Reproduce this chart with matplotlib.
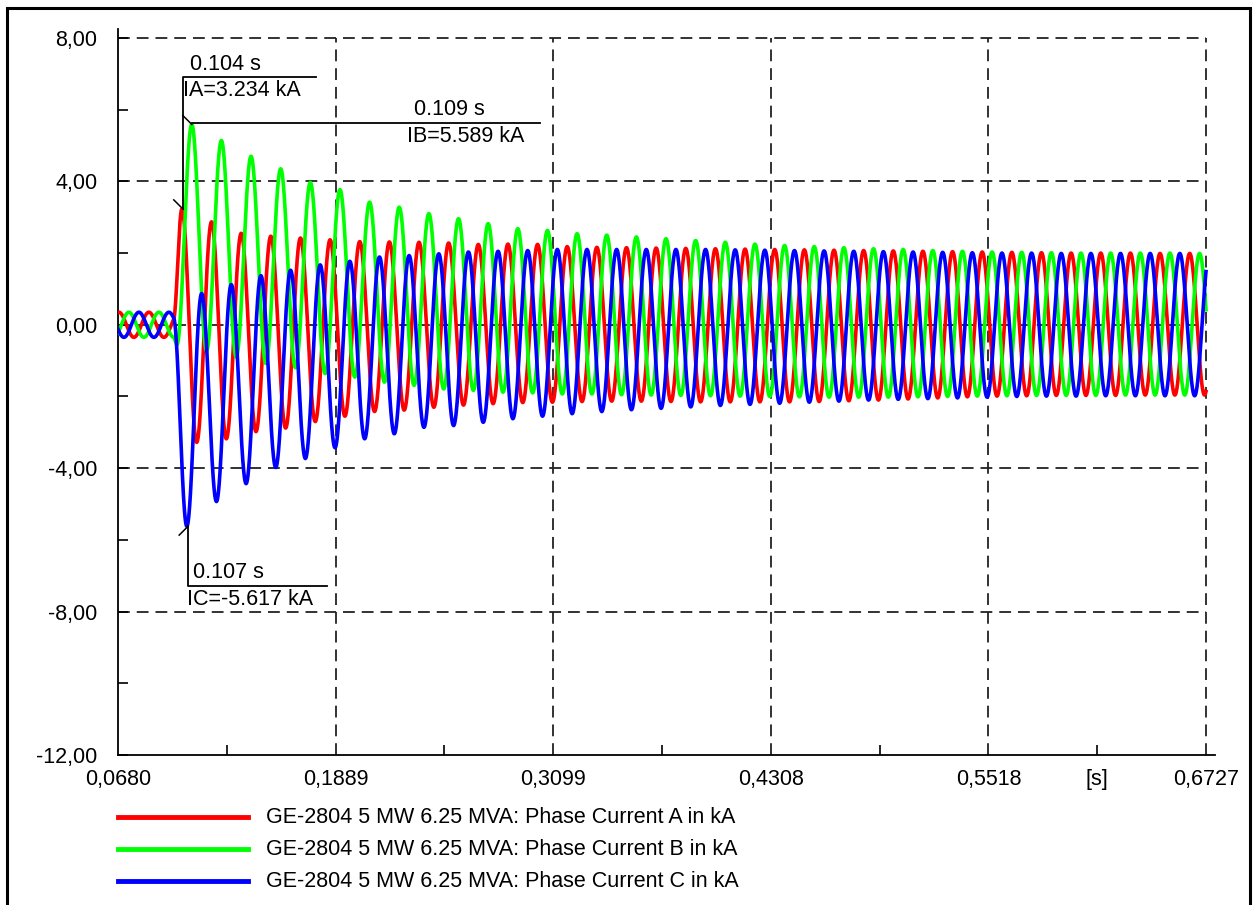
import numpy as np
import matplotlib
matplotlib.use('Agg')
import matplotlib.pyplot as plt
from matplotlib.lines import Line2D
from matplotlib.patches import Rectangle

plt.rcParams['font.family'] = ['Liberation Sans', 'DejaVu Sans']
plt.rcParams['lines.scale_dashes'] = False

W, H = 1256, 905

# axis ticks
x_ticks = [0.0680, 0.1889, 0.3099, 0.4308, 0.5518, 0.6727]
x_tick_labels = ['0,0680', '0,1889', '0,3099', '0,4308', '0,5518', '0,6727']
x_minor = [0.12845, 0.2494, 0.37035, 0.4913, 0.61225]
y_ticks = [-12, -8, -4, 0, 4, 8]
y_tick_labels = ['-12,00', '-8,00', '-4,00', '0,00', '4,00', '8,00']
y_minor = [-10, -6, -2, 2, 6]

series_labels = [
    'GE-2804 5 MW 6.25 MVA: Phase Current A in kA',
    'GE-2804 5 MW 6.25 MVA: Phase Current B in kA',
    'GE-2804 5 MW 6.25 MVA: Phase Current C in kA',
]
colors = ['#ff0000', '#00ff00', '#0000ff']

# before the fault: small balanced currents
t_start, t_end = 0.0680, 0.6727
t_fault = 0.0988
f_pre = 60.0
pre_amp = 0.35
pre_peak_a = 0.0685

# after the fault: per-cycle maxima / minima (cycle k = 0..35)
f_post = 60.7
first_peak_a = 0.1035
a_max = [3.23, 2.87, 2.55, 2.47, 2.42, 2.37, 2.32, 2.31, 2.30, 2.28, 2.24, 2.25,
         2.24, 2.18, 2.16, 2.15, 2.14, 2.13, 2.12, 2.11, 2.10, 2.09, 2.08, 2.07,
         2.06, 2.05, 2.04, 2.03, 2.02, 2.01, 2.00, 2.00, 2.00, 1.99, 1.99, 1.99]
a_min = [-3.28, -3.18, -2.98, -2.88, -2.70, -2.55, -2.42, -2.38, -2.30, -2.24, -2.20, -2.17,
         -2.16, -2.14, -2.13, -2.13, -2.14, -2.15, -2.15, -2.15, -2.15, -2.14, -2.12, -2.10,
         -2.07, -2.04, -2.01, -1.99, -1.98, -1.97, -1.97, -1.97, -1.96, -1.96, -1.96, -1.96]
b_max = [5.59, 5.14, 4.70, 4.35, 3.97, 3.77, 3.42, 3.28, 3.10, 2.96, 2.82, 2.68,
         2.63, 2.54, 2.50, 2.45, 2.40, 2.35, 2.30, 2.25, 2.21, 2.18, 2.15, 2.12,
         2.10, 2.07, 2.05, 2.03, 2.02, 2.01, 2.00, 2.00, 2.00, 2.00, 1.99, 1.99]
b_min = [-0.55, -0.72, -0.90, -1.08, -1.20, -1.36, -1.46, -1.60, -1.69, -1.79, -1.83, -1.88,
         -1.90, -1.93, -1.93, -1.95, -1.96, -1.97, -1.98, -1.99, -2.00, -2.01, -2.02, -2.02,
         -2.02, -2.01, -2.00, -1.99, -1.98, -1.97, -1.97, -1.97, -1.96, -1.96, -1.96, -1.96]
c_max = [0.87, 1.12, 1.37, 1.52, 1.67, 1.77, 1.89, 1.93, 1.98, 2.03, 2.05, 2.07,
         2.10, 2.10, 2.10, 2.10, 2.10, 2.10, 2.09, 2.08, 2.07, 2.06, 2.05, 2.04,
         2.03, 2.02, 2.01, 2.00, 2.00, 1.99, 1.99, 1.99, 1.99, 1.99, 1.99, 1.99]
c_min = [-5.62, -4.93, -4.43, -3.98, -3.73, -3.43, -3.18, -3.04, -2.86, -2.81, -2.72, -2.62,
         -2.55, -2.48, -2.42, -2.37, -2.33, -2.29, -2.25, -2.22, -2.19, -2.16, -2.13, -2.10,
         -2.08, -2.06, -2.04, -2.02, -2.00, -1.99, -1.99, -1.98, -1.98, -1.98, -1.98, -1.98]

# cursor read-outs shown on the plot
markers = [
    # time, value, top text, bottom text
    (0.104, 3.234, '0.104 s', 'IA=3.234 kA'),
    (0.109, 5.589, '0.109 s', 'IB=5.589 kA'),
    (0.107, -5.617, '0.107 s', 'IC=-5.617 kA'),
]


def build_wave(t, phase, maxima, minima, first_trough):
    '''pre-fault sine, then half-cosine arcs through the read extremes'''
    T0 = 1.0 / f_pre
    T = 1.0 / f_post
    pre = pre_amp * np.cos(2 * np.pi * f_pre * (t - pre_peak_a - phase * T0))
    k = np.arange(len(maxima))
    t_pk = first_peak_a + phase * T + k * T
    t_tr = first_trough + k * T
    ext_t = np.concatenate([t_pk, t_tr])
    ext_v = np.concatenate([maxima, minima])
    order = np.argsort(ext_t)
    ext_t, ext_v = ext_t[order], ext_v[order]
    v0 = pre_amp * np.cos(2 * np.pi * f_pre * (t_fault - pre_peak_a - phase * T0))
    tt = np.concatenate([[t_fault], ext_t])
    vv = np.concatenate([[v0], ext_v])
    idx = np.clip(np.searchsorted(tt, t, side='right') - 1, 0, len(tt) - 2)
    frac = np.clip((t - tt[idx]) / (tt[idx + 1] - tt[idx]), 0, 1)
    post = vv[idx] + (vv[idx + 1] - vv[idx]) * (1 - np.cos(np.pi * frac)) / 2
    return np.where(t < t_fault, pre, post)


T = 1.0 / f_post
t = np.linspace(t_start, t_end, 6000)
waves = [
    build_wave(t, 0.0, a_max, a_min, first_peak_a + T / 2),
    build_wave(t, 1 / 3, b_max, b_min, first_peak_a - T / 6),
    build_wave(t, 2 / 3, c_max, c_min, first_peak_a + T / 6),
]

fig = plt.figure(figsize=(W / 100, H / 100), dpi=100)
# plot box: x 118..1215 px, y 29..755 px (axis lines run a little past the last ticks)
ax = fig.add_axes([118 / W, 1 - 755 / H, 1097 / W, 726 / H])

for w, c in zip(waves, colors):
    ax.plot(t, w, color=c, lw=2.6, zorder=3)

grid_kw = dict(colors='#222222', linestyles=(0, (8.5, 5)), linewidth=1.3, zorder=1)
ax.hlines([-8, -4, 0, 4, 8], t_start, t_end, **grid_kw)
ax.vlines(x_ticks[1:], -12, 8, **grid_kw)

ax.set_xlim(t_start, t_end + 0.005)
ax.set_ylim(-12, 8.25)
ax.set_xticks(x_ticks)
ax.set_xticklabels(x_tick_labels)
ax.set_xticks(x_minor, minor=True)
ax.set_yticks(y_ticks)
ax.set_yticklabels(y_tick_labels)
ax.set_yticks(y_minor, minor=True)
ax.tick_params(which='both', direction='in', length=7, width=1.2, labelsize=15.5,
               colors='black')
ax.tick_params(axis='x', which='major', length=0, pad=10)
ax.tick_params(axis='y', which='major', pad=15)
for s in ['top', 'right']:
    ax.spines[s].set_visible(False)
for s in ['left', 'bottom']:
    ax.spines[s].set_linewidth(1.3)

ax.annotate('[s]', xy=(0.61225, -12), xytext=(0, -10), textcoords='offset points',
            ha='center', va='top', fontsize=15.5)

# cursor read-outs
dt = 0.005
dv = 0.25
tm, vm, top, bot = markers[0]
ax.plot([tm - dt, tm], [vm + dv, vm], color='black', lw=1.1, zorder=4)
ax.plot([tm, tm, 0.1780], [vm, 6.90, 6.90], color='black', lw=1.3, zorder=4)
ax.text(0.1080, 6.98, top, fontsize=15.5, va='bottom', ha='left')
ax.text(0.1043, 6.82, bot, fontsize=15.5, va='top', ha='left')

tm, vm, top, bot = markers[1]
ax.plot([tm - dt, tm], [vm + dv, vm], color='black', lw=1.1, zorder=4)
ax.plot([tm, 0.3025], [5.63, 5.63], color='black', lw=1.3, zorder=4)
ax.text(0.2325, 5.71, top, fontsize=15.5, va='bottom', ha='left')
ax.text(0.2286, 5.55, bot, fontsize=15.5, va='top', ha='left')

tm, vm, top, bot = markers[2]
ax.plot([tm - dt, tm], [vm - dv, vm], color='black', lw=1.1, zorder=4)
ax.plot([tm, tm, 0.1841], [vm, -7.29, -7.29], color='black', lw=1.3, zorder=4)
ax.text(0.1097, -7.21, top, fontsize=15.5, va='bottom', ha='left')
ax.text(0.1063, -7.37, bot, fontsize=15.5, va='top', ha='left')

# legend drawn under the plot
for i, (lab, c) in enumerate(zip(series_labels, colors)):
    y = 1 - (817 + 32 * i) / H
    fig.add_artist(Line2D([118 / W, 248 / W], [y, y], color=c, lw=3.5))
    fig.text(266 / W, y, lab, fontsize=15.5, va='center', ha='left')

fig.add_artist(Rectangle((7 / W, -0.02), (1250 - 7) / W, 1.02 - 8 / H,
                         fill=False, edgecolor='black', lw=2.2))

fig.savefig('out.png', dpi=100)
